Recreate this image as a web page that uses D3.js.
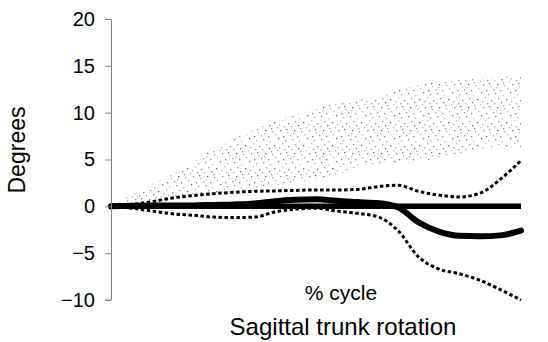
<!DOCTYPE html>
<html>
<head>
<meta charset="utf-8">
<script src="https://cdn.jsdelivr.net/npm/d3@7"></script>
<style>
  body { margin: 0; background: #fff; }
  svg { display: block; font-family: "Liberation Sans", Arial, sans-serif; }
</style>
</head>
<body>
<svg id="chart" width="548" height="342"></svg>
<script>
// % of gait cycle
var pct = [0, 5, 10, 15, 20, 25, 30, 35, 40, 45, 50, 55, 60, 65, 70, 75, 80, 85, 90, 95, 100];

// normal band (stippled area), degrees
var bandLow  = [0, 0.2, 0.4, 0.7, 1.0, 1.3, 1.6, 2.0, 2.3, 2.6, 2.9, 3.4, 4.0, 4.4, 4.6, 4.8, 5.2, 5.7, 6.1, 6.3, 6.3];
var bandHigh = [0, 1.2, 2.4, 3.4, 4.7, 6.1, 7.2, 8.2, 9.1, 9.8, 10.5, 11.0, 11.3, 11.8, 12.4, 13.0, 13.3, 13.5, 13.6, 13.8, 14.0];

// patient mean and +/- bounds
var meanVals  = [0, 0.05, 0.1, 0.1, 0.1, 0.15, 0.2, 0.3, 0.55, 0.7, 0.75, 0.6, 0.45, 0.35, -0.1, -1.7, -2.7, -3.15, -3.2, -3.1, -2.6];
var upperVals = [0, 0.2, 0.5, 0.9, 1.15, 1.35, 1.5, 1.6, 1.65, 1.7, 1.75, 1.75, 1.8, 2.1, 2.25, 1.6, 1.2, 1.0, 1.4, 2.9, 4.9];
var lowerVals = [0, -0.2, -0.5, -0.8, -0.95, -1.15, -1.2, -1.15, -0.6, -0.3, -0.2, -0.5, -0.75, -1.1, -2.6, -5.4, -6.7, -7.2, -7.9, -8.9, -10];

var yTicks = [20, 15, 10, 5, 0, -5, -10];

var svg = d3.select("#chart");

var x = d3.scaleLinear().domain([0, 100]).range([111, 521]);
var y = d3.scaleLinear().domain([-10, 20]).range([300, 19]);

// stipple texture for the band (just a fixed tile of specks)
var dots = [[2,1,"#888"],[9,3,"#bbb"],[17,0,"#777"],[24,2,"#aaa"],[5,6,"#999"],[13,7,"#666"],
            [21,5,"#bbb"],[27,8,"#888"],[1,11,"#aaa"],[8,10,"#777"],[16,12,"#bbb"],[23,11,"#999"],
            [4,15,"#666"],[11,16,"#aaa"],[19,15,"#888"],[26,17,"#bbb"],[0,20,"#999"],[7,21,"#888"],
            [14,19,"#bbb"],[22,21,"#777"],[10,13,"#999"],[18,9,"#aaa"],[25,14,"#777"],[3,18,"#bbb"]];
var pat = svg.append("defs").append("pattern")
    .attr("id", "stip")
    .attr("patternUnits", "userSpaceOnUse")
    .attr("width", 29).attr("height", 23);
pat.selectAll("rect").data(dots).enter().append("rect")
    .attr("x", function (d) { return d[0]; })
    .attr("y", function (d) { return d[1]; })
    .attr("width", 1.3).attr("height", 1.3)
    .attr("fill", function (d) { return d[2]; });

var area = d3.area()
    .x(function (d, i) { return x(pct[i]); })
    .y0(function (d, i) { return y(bandLow[i]); })
    .y1(function (d, i) { return y(bandHigh[i]); })
    .curve(d3.curveMonotoneX);

svg.append("path")
    .datum(pct)
    .attr("d", area)
    .attr("fill", "url(#stip)");

var line = d3.line()
    .x(function (d, i) { return x(pct[i]); })
    .y(function (d) { return y(d); })
    .curve(d3.curveMonotoneX);

// zero reference
svg.append("path")
    .datum(pct.map(function () { return 0; }))
    .attr("d", line)
    .attr("fill", "none")
    .attr("stroke", "#000")
    .attr("stroke-width", 5.5);

svg.append("path")
    .datum(meanVals)
    .attr("d", line)
    .attr("fill", "none")
    .attr("stroke", "#000")
    .attr("stroke-width", 6)
    .attr("stroke-linecap", "round");

[upperVals, lowerVals].forEach(function (vals) {
    svg.append("path")
        .datum(vals)
        .attr("d", line)
        .attr("fill", "none")
        .attr("stroke", "#000")
        .attr("stroke-width", 3)
        .attr("stroke-dasharray", "3.5,2.5");
});

// y axis
var yAxis = d3.axisLeft(y)
    .tickValues(yTicks)
    .tickSize(6)
    .tickPadding(10)
    .tickFormat(function (d) { return d < 0 ? "\u2212" + Math.abs(d) : d; });

var ax = svg.append("g")
    .attr("transform", "translate(111,0)")
    .call(yAxis);
ax.select(".domain").attr("stroke", "#808080").attr("d", "M-6,19.5H0.5V300H-6");
ax.selectAll(".tick line").attr("stroke", "#808080");
ax.selectAll("text")
    .attr("fill", "#000")
    .style("font-size", "20px")
    .style("font-family", "'Liberation Sans', Arial, sans-serif");

svg.append("text")
    .attr("transform", "translate(25,150) rotate(-90)")
    .attr("text-anchor", "middle")
    .attr("textLength", 87)
    .attr("lengthAdjust", "spacingAndGlyphs")
    .style("font-size", "23px")
    .text("Degrees");

svg.append("text")
    .attr("x", 341).attr("y", 300)
    .attr("text-anchor", "middle")
    .style("font-size", "21px")
    .text("% cycle");

svg.append("text")
    .attr("x", 343).attr("y", 335)
    .attr("text-anchor", "middle")
    .style("font-size", "24px")
    .text("Sagittal trunk rotation");
</script>
</body>
</html>
